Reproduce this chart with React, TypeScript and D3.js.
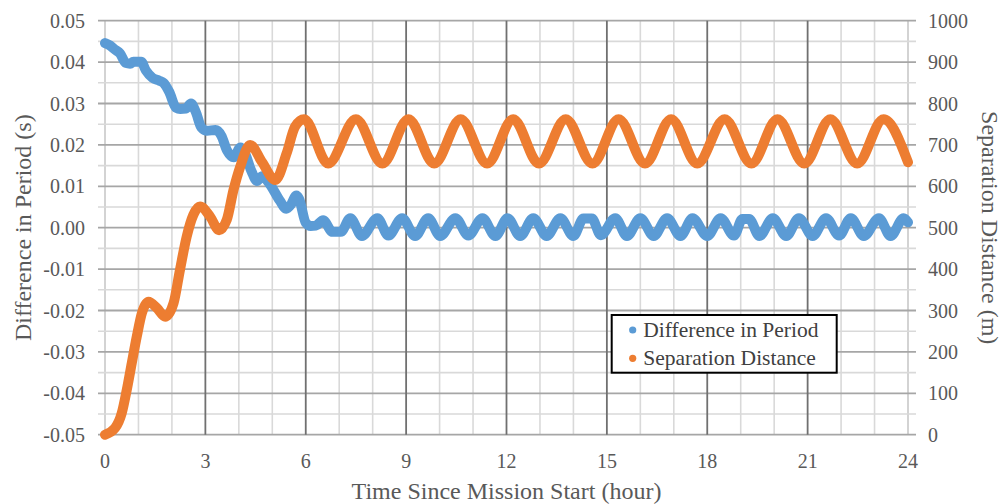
import React from "react";
import * as d3 from "d3";

// Axis ticks
const hourTicks = [0, 3, 6, 9, 12, 15, 18, 21, 24];
const periodTicks = [-0.05, -0.04, -0.03, -0.02, -0.01, 0, 0.01, 0.02, 0.03, 0.04, 0.05];
const distanceTicks = [0, 100, 200, 300, 400, 500, 600, 700, 800, 900, 1000];

// Difference in Period (s) vs time (hour)
const periodSeries: [number, number][] = [
  [0.0, 0.0446], [0.15, 0.044], [0.3, 0.043], [0.45, 0.0421], [0.62, 0.0398], [0.75, 0.0396],
  [0.85, 0.0401], [1.08, 0.0401], [1.22, 0.038], [1.42, 0.0362], [1.62, 0.0355], [1.75, 0.035],
  [1.92, 0.0328], [2.12, 0.029], [2.25, 0.0287], [2.42, 0.0288], [2.57, 0.03], [2.72, 0.0278],
  [2.88, 0.0242], [3.05, 0.0234], [3.3, 0.0236], [3.48, 0.0222], [3.65, 0.0186], [3.85, 0.017],
  [4.05, 0.0194], [4.15, 0.0186], [4.38, 0.0136], [4.54, 0.0113], [4.7, 0.0124], [4.92, 0.0106],
  [5.22, 0.0066], [5.42, 0.0046], [5.56, 0.0056], [5.72, 0.0078], [5.8, 0.007], [6.0, 0.0012],
  [6.15, 0.0004], [6.3, 0.0005], [6.52, 0.0018], [6.8, -0.001], [7.05, -0.001], [7.33, 0.0023],
  [7.68, -0.002], [8.14, 0.0023], [8.47, -0.0019], [8.88, 0.0023], [9.27, -0.002], [9.66, 0.0023],
  [10.02, -0.002], [10.47, 0.0023], [10.86, -0.0019], [11.28, 0.0023], [11.67, -0.002],
  [12.03, 0.0023], [12.41, -0.002], [12.8, 0.0023], [13.2, -0.002], [13.61, 0.0023],
  [14.0, -0.002], [14.3, 0.0022], [14.55, 0.0022], [14.82, -0.0018], [15.25, 0.0023],
  [15.6, -0.002], [16.0, 0.0023], [16.4, -0.002], [16.8, 0.0023], [17.2, -0.002],
  [17.56, 0.0023], [18.0, -0.002], [18.4, 0.0023], [18.8, -0.0019], [19.05, 0.0021],
  [19.25, 0.0021], [19.56, -0.002], [19.96, 0.0023], [20.36, -0.002], [20.74, 0.0023],
  [21.15, -0.002], [21.55, 0.0023], [21.94, -0.0019], [22.29, 0.0023], [22.68, -0.002],
  [23.13, 0.0023], [23.48, -0.002], [23.87, 0.0023], [24.0, 0.0013],
];

// Separation Distance (m) vs time (hour)
const distanceSeries: [number, number][] = [
  [0, 0], [0.3, 16], [0.5, 52], [0.65, 108], [0.8, 173], [0.95, 237], [1.1, 293], [1.3, 321],
  [1.55, 306], [1.8, 285], [2.05, 318], [2.24, 398], [2.44, 478], [2.64, 531], [2.84, 551],
  [3.14, 527], [3.41, 494], [3.64, 519], [3.84, 591], [4.04, 647], [4.34, 700], [4.69, 659],
  [5.09, 615], [5.43, 680], [5.68, 744], [5.95, 762], [6.67, 655], [7.5, 762], [8.29, 655],
  [9.07, 762], [9.84, 655], [10.63, 762], [11.42, 655], [12.2, 762], [12.97, 655], [13.77, 762],
  [14.57, 655], [15.35, 762], [16.14, 655], [16.92, 762], [17.7, 655], [18.52, 762], [19.32, 655],
  [20.1, 762], [20.9, 655], [21.68, 762], [22.48, 655], [23.27, 762], [24.0, 658],
];

const seriesNames = ["Difference in Period", "Separation Distance"];
const seriesColors = ["#5B9BD5", "#ED7D31"];

const W = 1004;
const H = 504;
const PLOT = { left: 105, right: 908, top: 20.7, bottom: 434.7 };
const FONT = "'Liberation Serif', 'Times New Roman', serif";

export default function App() {
  const x = d3.scaleLinear().domain([0, 24]).range([PLOT.left, PLOT.right]);
  const yL = d3.scaleLinear().domain([-0.05, 0.05]).range([PLOT.bottom, PLOT.top]);
  const yR = d3.scaleLinear().domain([0, 1000]).range([PLOT.bottom, PLOT.top]);

  const hourLines = d3.range(0, 25, 1);
  const halfSteps = d3.range(0, 21).map((i) => -0.05 + i * 0.005);

  const periodLine = d3
    .line<[number, number]>()
    .x((d) => x(d[0]))
    .y((d) => yL(d[1]))
    .curve(d3.curveMonotoneX);
  const distanceLine = d3
    .line<[number, number]>()
    .x((d) => x(d[0]))
    .y((d) => yR(d[1]))
    .curve(d3.curveMonotoneX);

  // plain hyphen for negative numbers
  const fmt = (v: number) => d3.format(".2f")(Math.abs(v) < 1e-9 ? 0 : v).replace("\u2212", "-");

  return (
    <svg
      width={W}
      height={H}
      style={{ position: "absolute", left: 0, top: 0, background: "#fff" }}
      fontFamily={FONT}
    >
      <rect width={W} height={H} fill="#fff" />

      {/* minor vertical gridlines (each hour) */}
      {hourLines
        .filter((h) => h % 3 !== 0 || h === 0 || h === 24)
        .map((h) => (
          <line key={"vm" + h} x1={x(h)} x2={x(h)} y1={PLOT.top} y2={PLOT.bottom}
            stroke={h === 0 || h === 24 ? "#c8c8c8" : "#d9d9d9"} strokeWidth={1.6} />
        ))}

      {/* horizontal gridlines with outer ticks on both sides */}
      {halfSteps.map((v, i) => {
        const major = i % 2 === 0;
        return (
          <line key={"h" + i} x1={PLOT.left - 7} x2={PLOT.right + 8} y1={yL(v)} y2={yL(v)}
            stroke={major ? "#a6a6a6" : "#d9d9d9"} strokeWidth={major ? 1.8 : 1.6} />
        );
      })}

      {/* major vertical gridlines (every 3 hours) */}
      {hourTicks
        .filter((h) => h !== 0 && h !== 24)
        .map((h) => (
          <line key={"vM" + h} x1={x(h)} x2={x(h)} y1={PLOT.top} y2={PLOT.bottom}
            stroke="#707070" strokeWidth={1.8} />
        ))}

      {/* series */}
      <path d={periodLine(periodSeries) || ""} fill="none" stroke={seriesColors[0]}
        strokeWidth={10} strokeLinecap="round" strokeLinejoin="round" />
      <path d={distanceLine(distanceSeries) || ""} fill="none" stroke={seriesColors[1]}
        strokeWidth={10} strokeLinecap="round" strokeLinejoin="round" />

      {/* left axis labels */}
      {periodTicks.map((v) => (
        <text key={"l" + v} x={85} y={yL(v)} dy="0.35em" textAnchor="end" fontSize={20}
          fontFamily={FONT} fill="#595959">
          {fmt(v)}
        </text>
      ))}

      {/* right axis labels */}
      {distanceTicks.map((v) => (
        <text key={"r" + v} x={928} y={yR(v)} dy="0.35em" textAnchor="start" fontSize={20}
          fontFamily={FONT} fill="#595959">
          {v}
        </text>
      ))}

      {/* bottom axis labels */}
      {hourTicks.map((h) => (
        <text key={"b" + h} x={x(h)} y={468} textAnchor="middle" fontSize={20}
          fontFamily={FONT} fill="#595959">
          {h}
        </text>
      ))}

      {/* axis titles */}
      <text x={(PLOT.left + PLOT.right) / 2} y={499} textAnchor="middle" fontSize={24} fill="#595959">
        Time Since Mission Start (hour)
      </text>
      <text transform={`translate(31,${(PLOT.top + PLOT.bottom) / 2}) rotate(-90)`} textAnchor="middle"
        fontSize={24} fill="#595959">
        Difference in Period (s)
      </text>
      <text transform={`translate(982,${(PLOT.top + PLOT.bottom) / 2}) rotate(90)`} textAnchor="middle"
        fontSize={24} fill="#595959">
        Separation Distance (m)
      </text>

      {/* legend */}
      <g>
        <rect x={611.7} y={315} width={225} height={57.7} fill="#fff" stroke="#000" strokeWidth={2} />
        {seriesNames.map((name, i) => (
          <g key={name}>
            <circle cx={632.7} cy={330 + i * 28.3} r={3.6} fill={seriesColors[i]} />
            <text x={643.3} y={337 + i * 28.3} fontSize={21.5} fill="#404040">
              {name}
            </text>
          </g>
        ))}
      </g>
    </svg>
  );
}
